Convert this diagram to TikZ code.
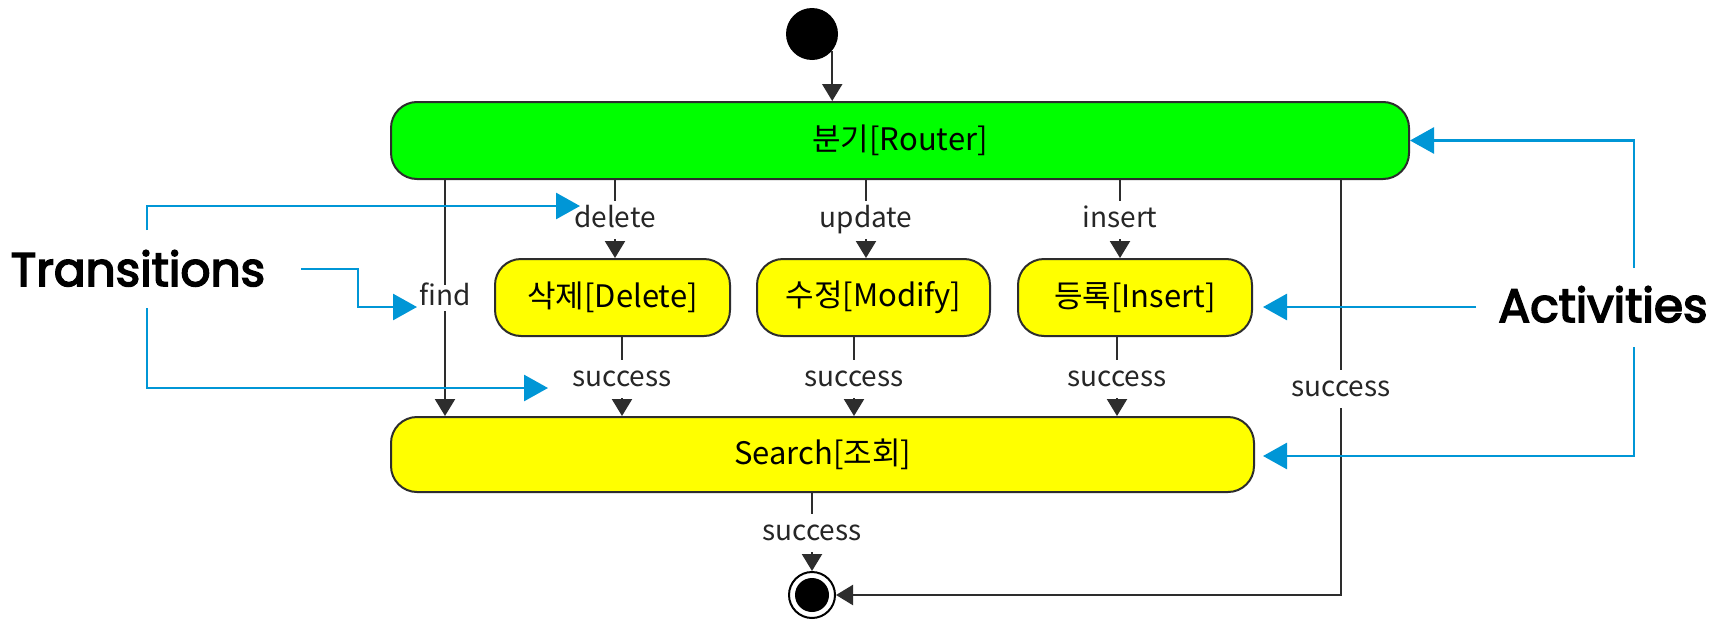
\documentclass[tikz,border=0pt]{standalone}
\usepackage{fontspec}
\setmainfont{Noto Sans CJK KR}
\newfontfamily\annotfont{Poppins}[FakeBold=3.5]
\usetikzlibrary{arrows.meta}
\definecolor{routergreen}{RGB}{0,255,0}
\definecolor{actyellow}{RGB}{255,255,0}
\definecolor{annblue}{RGB}{0,150,214}
\definecolor{edgegray}{RGB}{45,45,45}
\begin{document}
\begin{tikzpicture}[x=0.5pt,y=-0.5pt,
  activity/.style={draw=edgegray, line width=1pt, rounded corners=13pt, inner sep=0pt,
    minimum height=38.5pt, font=\fontsize{15.5}{18}\selectfont},
  lbl/.style={font=\fontsize{14}{16}\selectfont, text=black!85, inner xsep=1pt, inner ysep=3.5pt,
    text height=9.5pt, text depth=2.5pt},
  conn/.style={draw=edgegray, line width=1.1pt},
  arr/.style={conn, -{Triangle[width=10pt,length=8.5pt]}},
  bluearrow/.style={draw=annblue, line width=1.4pt, -{Triangle[width=13pt,length=12pt]}},
  annot/.style={font=\annotfont\fontsize{23.5}{26}\selectfont, inner sep=0pt}]
\useasboundingbox (0,0) rectangle (1722,621);
\fill[white] (0,0) rectangle (1722,621);

% states
\node[circle, fill=black, inner sep=0pt, minimum size=26pt] (initial) at (812,34) {};
\node[activity, fill=routergreen, minimum width=509pt] (router) at (900,140.5) {분기[Router]};
\node[activity, fill=actyellow, minimum width=117.5pt] (del) at (612.5,297.5) {삭제[Delete]};
\node[activity, fill=actyellow, minimum width=116.5pt] (mod) at (873.5,297.5) {수정[Modify]};
\node[activity, fill=actyellow, minimum width=117pt] (ins) at (1135,297.5) {등록[Insert]};
\node[activity, fill=actyellow, minimum width=431.5pt, minimum height=37.5pt] (search) at (822.5,454.5) {Search[조회]};
\node[circle, draw=black, line width=1pt, fill=white, inner sep=0pt, minimum size=23pt,
  path picture={\fill[black] (path picture bounding box.center) circle (8.5pt);}] (final) at (812,595) {};

% transitions
\draw[arr] (initial.-40) -- (initial.-40 |- router.north);

\node[lbl, inner ysep=0.5pt] (lfind) at (445,298) {find};
\draw[conn] (lfind |- router.south) -- (lfind.north);
\draw[arr] (lfind.south) -- (lfind |- search.north);

\node[lbl] (ldel) at (615,220) {delete};
\draw[conn] (ldel |- router.south) -- (ldel.north);
\draw[arr] (ldel.south) -- (ldel |- del.north);

\node[lbl] (lupd) at (866,220) {update};
\draw[conn] (lupd |- router.south) -- (lupd.north);
\draw[arr] (lupd.south) -- (lupd |- mod.north);

\node[lbl] (lins) at (1120,220) {insert};
\draw[conn] (lins |- router.south) -- (lins.north);
\draw[arr] (lins.south) -- (lins |- ins.north);

\node[lbl] (ls1) at (622,379) {success};
\draw[conn] (ls1 |- del.south) -- (ls1.north);
\draw[arr] (ls1.south) -- (ls1 |- search.north);

\node[lbl] (ls2) at (854,379) {success};
\draw[conn] (ls2 |- mod.south) -- (ls2.north);
\draw[arr] (ls2.south) -- (ls2 |- search.north);

\node[lbl] (ls3) at (1117,379) {success};
\draw[conn] (ls3 |- ins.south) -- (ls3.north);
\draw[arr] (ls3.south) -- (ls3 |- search.north);

\node[lbl] (ls4) at (1341,389) {success};
\draw[conn] (ls4 |- router.south) -- (ls4.north);
\draw[arr] (ls4.south) |- (final.east);

\node[lbl] (ls5) at (812,533) {success};
\draw[conn] (ls5 |- search.south) -- (ls5.north);
\draw[arr] (ls5.south) -- (final.north);

% annotations
\node[annot, anchor=base] (trans) at (138,286) {Transitions};
\node[annot, anchor=base] (activ) at (1603,322) {Activities};

\coordinate (t1s) at (147,230);
\coordinate (t1e) at (580,206);
\coordinate (t2s) at (301,269);
\coordinate (t2e) at (417,307);
\coordinate (t3s) at (147,308);
\coordinate (t3e) at (548,388);
\draw[bluearrow] (t1s) |- (t1e);
\draw[bluearrow] (t2s) -- (358,269) |- (t2e);
\draw[bluearrow] (t3s) |- (t3e);

\coordinate (a1s) at (1634,268);
\coordinate (a2s) at (1476,307);
\coordinate (a2e) at (1263,307);
\coordinate (a3s) at (1634,347);
\coordinate (a3e) at (1263,456);
\draw[bluearrow] (a1s) |- (router.east);
\draw[bluearrow] (a2s) -- (a2e);
\draw[bluearrow] (a3s) |- (a3e);
\end{tikzpicture}
\end{document}
